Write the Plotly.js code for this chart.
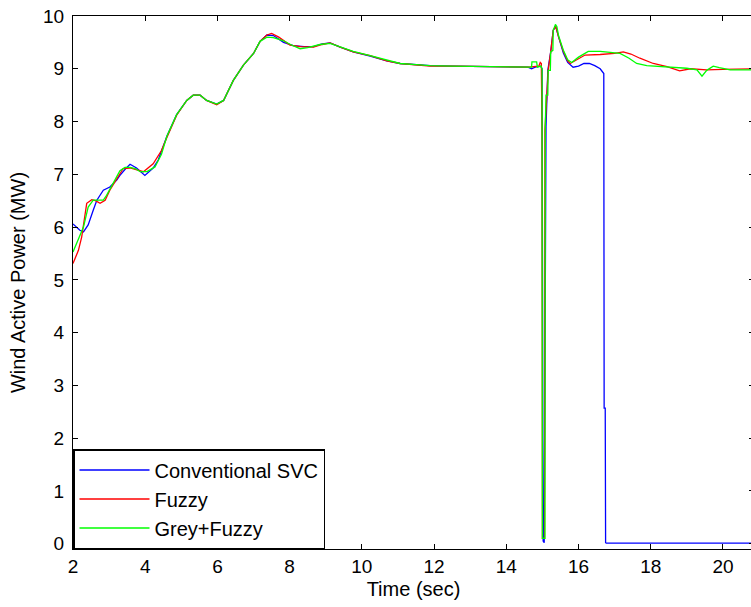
<!DOCTYPE html>
<html>
<head>
<meta charset="utf-8">
<script src="https://cdn.plot.ly/plotly-3.0.1.min.js"></script>
<style>
html, body { margin: 0; padding: 0; background: #fff; overflow: hidden; }
#chart { width: 760px; height: 607px; }
</style>
</head>
<body>
<div id="chart"></div>
<script>
// Series names
const seriesNames = ["Conventional SVC", "Fuzzy", "Grey+Fuzzy"];

// Conventional SVC (blue)
const tBlue = [2.0, 2.19, 2.29, 2.42, 2.56, 2.66, 2.84, 3.02, 3.21, 3.30, 3.45, 3.58, 3.76, 3.99, 4.22, 4.36, 4.6, 4.87, 5.15, 5.33, 5.52, 5.70, 5.98, 6.17, 6.44, 6.72, 7.0, 7.18, 7.37, 7.55, 7.83, 8.1, 8.4, 8.66, 8.9, 9.12, 9.4, 9.76, 10.23, 10.69, 11.06, 11.5, 11.89, 12.5, 13.2, 14.0, 14.6, 14.7, 14.8, 14.95, 14.99, 15.02, 15.05, 15.07, 15.10, 15.15, 15.23, 15.30, 15.37, 15.45, 15.58, 15.70, 15.85, 16.0, 16.15, 16.3, 16.45, 16.6, 16.70, 16.71, 16.74, 16.75, 16.77, 17.5, 18.5, 19.5, 20.86];
const pBlue = [6.06, 5.94, 5.91, 6.04, 6.32, 6.51, 6.70, 6.76, 6.89, 6.98, 7.10, 7.19, 7.12, 6.98, 7.12, 7.27, 7.72, 8.13, 8.40, 8.50, 8.50, 8.40, 8.33, 8.40, 8.78, 9.07, 9.29, 9.52, 9.64, 9.63, 9.50, 9.44, 9.42, 9.42, 9.47, 9.49, 9.41, 9.32, 9.24, 9.15, 9.10, 9.08, 9.06, 9.05, 9.04, 9.03, 9.03, 9.00, 9.03, 9.05, 9.00, 0.05, 0.02, 3.24, 7.90, 8.97, 9.32, 9.73, 9.80, 9.60, 9.30, 9.12, 9.03, 9.05, 9.10, 9.10, 9.06, 9.00, 8.91, 2.57, 2.57, 0.02, 0.01, 0.01, 0.01, 0.01, 0.01];

// Fuzzy (red)
const tRed = [2.0, 2.15, 2.24, 2.33, 2.38, 2.52, 2.62, 2.75, 2.89, 3.02, 3.21, 3.39, 3.58, 3.81, 3.95, 4.22, 4.45, 4.6, 4.87, 5.15, 5.33, 5.52, 5.70, 5.98, 6.17, 6.44, 6.72, 7.0, 7.18, 7.37, 7.5, 7.7, 8.01, 8.3, 8.66, 8.9, 9.12, 9.4, 9.76, 10.23, 10.69, 11.06, 11.5, 11.89, 12.5, 13.2, 14.0, 14.6, 14.9, 14.94, 14.97, 14.99, 15.0, 15.06, 15.07, 15.12, 15.16, 15.23, 15.30, 15.37, 15.45, 15.58, 15.70, 15.77, 15.9, 16.18, 16.6, 17.0, 17.24, 17.45, 17.7, 18.07, 18.45, 18.8, 19.1, 19.55, 20.0, 20.5, 20.86];
const pRed = [5.31, 5.56, 5.81, 6.19, 6.45, 6.52, 6.50, 6.45, 6.51, 6.70, 6.92, 7.11, 7.12, 7.08, 7.05, 7.20, 7.45, 7.70, 8.12, 8.40, 8.50, 8.50, 8.40, 8.32, 8.40, 8.78, 9.07, 9.29, 9.52, 9.64, 9.67, 9.60, 9.45, 9.42, 9.41, 9.46, 9.49, 9.41, 9.32, 9.25, 9.15, 9.10, 9.08, 9.05, 9.05, 9.04, 9.03, 9.03, 9.05, 9.12, 9.10, 7.84, 0.10, 0.10, 7.84, 8.47, 8.97, 9.32, 9.73, 9.80, 9.60, 9.33, 9.15, 9.10, 9.15, 9.26, 9.27, 9.29, 9.32, 9.28, 9.20, 9.10, 9.04, 8.96, 9.00, 8.98, 8.99, 8.99, 9.00];

// Grey+Fuzzy (green)
const tGreen = [2.0, 2.19, 2.29, 2.42, 2.56, 2.70, 2.84, 2.93, 3.12, 3.30, 3.44, 3.58, 3.72, 3.86, 4.05, 4.27, 4.45, 4.6, 4.87, 5.15, 5.33, 5.52, 5.70, 5.98, 6.17, 6.44, 6.72, 7.0, 7.18, 7.37, 7.55, 7.83, 8.05, 8.29, 8.5, 8.84, 9.12, 9.4, 9.76, 10.23, 10.69, 11.06, 11.5, 11.89, 12.5, 13.2, 14.0, 14.6, 14.70, 14.71, 14.84, 14.86, 14.96, 14.99, 15.00, 15.06, 15.07, 15.08, 15.10, 15.15, 15.16, 15.22, 15.23, 15.29, 15.30, 15.36, 15.40, 15.45, 15.58, 15.70, 15.81, 16.0, 16.27, 16.6, 16.88, 17.15, 17.4, 17.61, 17.89, 18.45, 19.0, 19.28, 19.42, 19.55, 19.73, 19.9, 20.2, 20.86];
const pGreen = [5.53, 5.85, 6.00, 6.38, 6.51, 6.51, 6.51, 6.60, 6.83, 7.07, 7.13, 7.13, 7.11, 7.05, 7.05, 7.14, 7.38, 7.72, 8.13, 8.40, 8.50, 8.50, 8.40, 8.33, 8.40, 8.78, 9.07, 9.29, 9.52, 9.60, 9.59, 9.53, 9.45, 9.38, 9.40, 9.46, 9.48, 9.42, 9.33, 9.25, 9.16, 9.10, 9.08, 9.06, 9.05, 9.04, 9.03, 9.03, 9.03, 9.13, 9.13, 9.03, 9.05, 9.00, 0.10, 0.10, 0.10, 7.90, 8.50, 8.50, 8.97, 8.97, 9.32, 9.35, 9.73, 9.84, 9.80, 9.62, 9.35, 9.17, 9.12, 9.22, 9.33, 9.33, 9.31, 9.29, 9.20, 9.10, 9.06, 9.04, 9.01, 8.98, 8.86, 8.97, 9.05, 9.02, 8.98, 8.98];

// Axis ticks
const xTicks = [2, 4, 6, 8, 10, 12, 14, 16, 18, 20];
const yTicks = [0, 1, 2, 3, 4, 5, 6, 7, 8, 9, 10];

const font = "Arial, 'Liberation Sans', sans-serif";

const traces = [
  {x: tBlue, y: pBlue, name: seriesNames[0], mode: "lines", line: {color: "#0000ff", width: 1.3}},
  {x: tRed, y: pRed, name: seriesNames[1], mode: "lines", line: {color: "#ff0000", width: 1.3}},
  {x: tGreen, y: pGreen, name: seriesNames[2], mode: "lines", line: {color: "#00ff00", width: 1.3}}
];

const layout = {
  width: 760,
  height: 607,
  margin: {l: 73, r: 6, t: 16, b: 58},
  paper_bgcolor: "#ffffff",
  plot_bgcolor: "#ffffff",
  font: {family: font, size: 19, color: "#000"},
  showlegend: true,
  legend: {
    x: 0, y: 0, xanchor: "left", yanchor: "bottom",
    bordercolor: "#000", borderwidth: 1.5, bgcolor: "#fff",
    font: {family: font, size: 20, color: "#000"},
    itemwidth: 70
  },
  xaxis: {
    range: [2, 20.86],
    tickvals: xTicks,
    ticktext: xTicks.map(String),
    ticks: "inside", ticklen: 5, tickcolor: "#000",
    showline: true, linecolor: "#000", linewidth: 1, mirror: "ticks",
    showgrid: false, zeroline: false,
    tickfont: {family: font, size: 19},
    title: {text: "Time (sec)", font: {family: font, size: 20}, standoff: 6}
  },
  yaxis: {
    range: [-0.1, 10],
    tickvals: yTicks,
    ticktext: yTicks.map(String),
    ticks: "inside", ticklen: 5, tickcolor: "#000",
    showline: true, linecolor: "#000", linewidth: 1, mirror: "ticks",
    showgrid: false, zeroline: false,
    tickfont: {family: font, size: 19},
    ticklabelstandoff: 4,
    title: {text: "Wind Active Power (MW)", font: {family: font, size: 20}, standoff: 12}
  }
};

Plotly.newPlot("chart", traces, layout, {displayModeBar: false, staticPlot: true});
</script>
</body>
</html>
